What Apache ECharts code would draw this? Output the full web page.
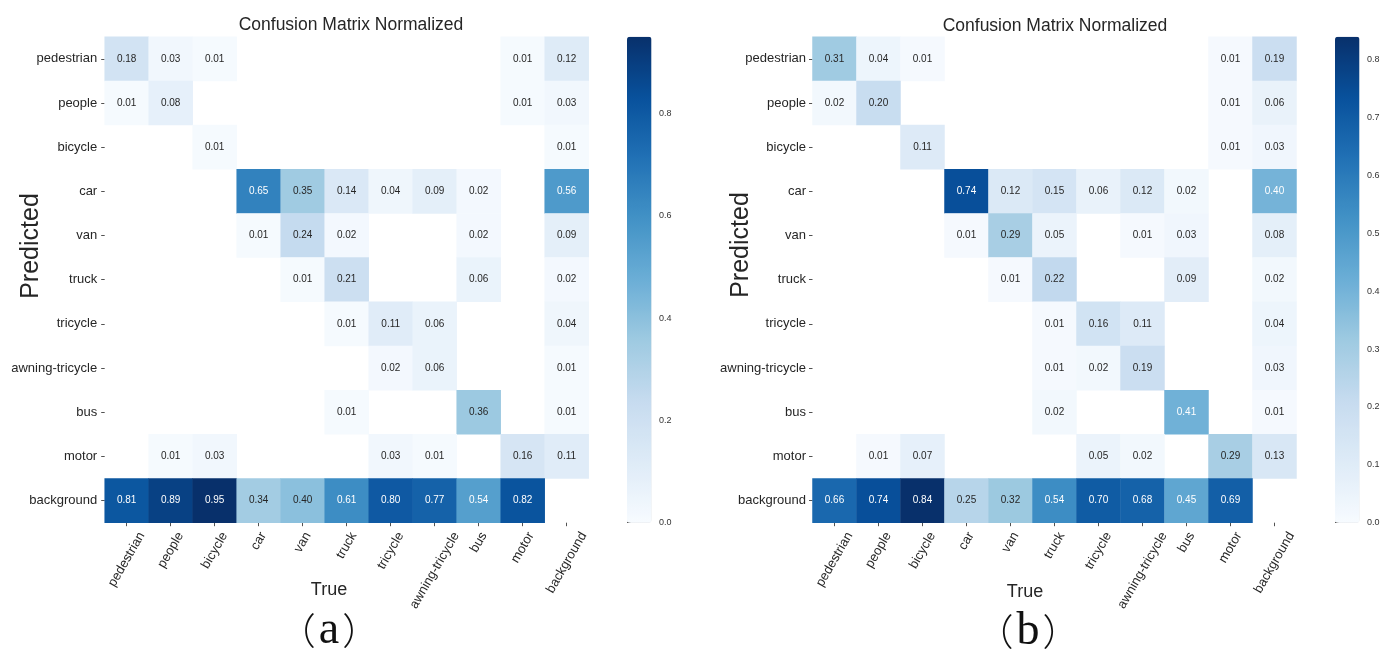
<!DOCTYPE html>
<html>
<head>
<meta charset="utf-8">
<script src="https://cdn.jsdelivr.net/npm/echarts@6/dist/echarts.min.js"></script>
<style>
  html, body { margin: 0; padding: 0; background: #fff; }
  #chart { width: 1395px; height: 651px; }
</style>
</head>
<body>
<div id="chart"></div>
<script>
// Class names shared by both axes (rows = predicted, columns = true)
const classes = ['pedestrian', 'people', 'bicycle', 'car', 'van', 'truck', 'tricycle',
  'awning-tricycle', 'bus', 'motor', 'background'];

// (a) normalized confusion matrix; null = empty cell
const matrixA = [
  [0.18, 0.03, 0.01, null, null, null, null, null, null, 0.01, 0.12],
  [0.01, 0.08, null, null, null, null, null, null, null, 0.01, 0.03],
  [null, null, 0.01, null, null, null, null, null, null, null, 0.01],
  [null, null, null, 0.65, 0.35, 0.14, 0.04, 0.09, 0.02, null, 0.56],
  [null, null, null, 0.01, 0.24, 0.02, null, null, 0.02, null, 0.09],
  [null, null, null, null, 0.01, 0.21, null, null, 0.06, null, 0.02],
  [null, null, null, null, null, 0.01, 0.11, 0.06, null, null, 0.04],
  [null, null, null, null, null, null, 0.02, 0.06, null, null, 0.01],
  [null, null, null, null, null, 0.01, null, null, 0.36, null, 0.01],
  [null, 0.01, 0.03, null, null, null, 0.03, 0.01, null, 0.16, 0.11],
  [0.81, 0.89, 0.95, 0.34, 0.40, 0.61, 0.80, 0.77, 0.54, 0.82, null]
];

// (b) normalized confusion matrix; null = empty cell
const matrixB = [
  [0.31, 0.04, 0.01, null, null, null, null, null, null, 0.01, 0.19],
  [0.02, 0.20, null, null, null, null, null, null, null, 0.01, 0.06],
  [null, null, 0.11, null, null, null, null, null, null, 0.01, 0.03],
  [null, null, null, 0.74, 0.12, 0.15, 0.06, 0.12, 0.02, null, 0.40],
  [null, null, null, 0.01, 0.29, 0.05, null, 0.01, 0.03, null, 0.08],
  [null, null, null, null, 0.01, 0.22, null, null, 0.09, null, 0.02],
  [null, null, null, null, null, 0.01, 0.16, 0.11, null, null, 0.04],
  [null, null, null, null, null, 0.01, 0.02, 0.19, null, null, 0.03],
  [null, null, null, null, null, 0.02, null, null, 0.41, null, 0.01],
  [null, 0.01, 0.07, null, null, null, 0.05, 0.02, null, 0.29, 0.13],
  [0.66, 0.74, 0.84, 0.25, 0.32, 0.54, 0.70, 0.68, 0.45, 0.69, null]
];

// Colour scale ranges and colour-bar ticks
const scaleMaxA = 0.95;
const scaleMaxB = 0.84;
const colorbarTicksA = [0, 0.2, 0.4, 0.6, 0.8];
const colorbarTicksB = [0, 0.1, 0.2, 0.3, 0.4, 0.5, 0.6, 0.7, 0.8];

const titleText = 'Confusion Matrix Normalized';
const panelTags = ['a', 'b'];

// "Blues" colour map stops
const BLUES = ['#f7fbff', '#deebf7', '#c6dbef', '#9ecae1', '#6baed6',
  '#4292c6', '#2171b5', '#08519c', '#08306b'];

const SANS = '"Liberation Sans", Arial, Helvetica, sans-serif';
const INK = '#262626';

function hexToRgb(h) {
  return [parseInt(h.slice(1, 3), 16), parseInt(h.slice(3, 5), 16), parseInt(h.slice(5, 7), 16)];
}
function bluesAt(t) {
  t = Math.max(0, Math.min(1, t));
  const pos = t * (BLUES.length - 1);
  const i = Math.min(BLUES.length - 2, Math.floor(pos));
  const f = pos - i;
  const a = hexToRgb(BLUES[i]), b = hexToRgb(BLUES[i + 1]);
  return a.map((c, k) => c + (b[k] - c) * f);
}
function luminance(rgb) {
  const lin = rgb.map(c => {
    c /= 255;
    return c <= 0.03928 ? c / 12.92 : Math.pow((c + 0.055) / 1.055, 2.4);
  });
  return 0.2126 * lin[0] + 0.7152 * lin[1] + 0.0722 * lin[2];
}

// Heatmap items with a readable annotation colour for each cell
function cells(matrix, vmax) {
  const out = [];
  matrix.forEach((row, r) => row.forEach((v, c) => {
    if (v === null) return;
    const lum = luminance(bluesAt(v / vmax));
    out.push({ value: [c, r, v], label: { color: lum > 0.42 ? INK : '#ffffff' } });
  }));
  return out;
}

// Rotated x labels: the rotated text box is centred under its tick,
// its top edge a few pixels below the heatmap.
const measureCtx = document.createElement('canvas').getContext('2d');
measureCtx.font = '13px ' + SANS;
const ROT = 60 * Math.PI / 180;
const X_LABEL_MARGIN = -5;
const X_LABEL_TOP_GAP = 6.8;
function xLabelItems() {
  return classes.map(name => {
    const L = measureCtx.measureText(name).width;
    const H = L * Math.sin(ROT) + 15 * Math.cos(ROT);
    const D = X_LABEL_TOP_GAP + H / 2 - X_LABEL_MARGIN;
    const padRight = Math.sin(ROT) * D - L / 2;
    return { value: name, textStyle: { padding: [D, padRight, 0, 0] } };
  });
}

const GRID_TOP = 36.7, GRID_H = 486, GRID_W = 484, BAR_W = 24.5;
const panels = [
  { left: 104.7, bar: 627, matrix: matrixA, vmax: scaleMaxA, ticks: colorbarTicksA, labelMargin: 7.5 },
  { left: 812.5, bar: 1335, matrix: matrixB, vmax: scaleMaxB, ticks: colorbarTicksB, labelMargin: 6.5 }
];

const grid = [], xAxis = [], yAxis = [], series = [], visualMap = [];
panels.forEach((p, i) => {
  grid.push({ left: p.left, top: GRID_TOP, width: GRID_W, height: GRID_H, containLabel: false, outerBoundsMode: 'none' });
  grid.push({ left: p.bar, top: GRID_TOP, width: BAR_W, height: GRID_H, containLabel: false, outerBoundsMode: 'none' });

  xAxis.push({
    gridIndex: 2 * i, type: 'category', data: xLabelItems(),
    axisLine: { show: false },
    axisTick: { show: true, alignWithLabel: true, length: 3.5, lineStyle: { color: INK, width: 0.8 } },
    axisLabel: {
      interval: 0, rotate: 60, margin: X_LABEL_MARGIN, fontSize: 13, fontFamily: SANS, color: INK,
      formatter: v => '{t|' + v + '}',
      rich: { t: { fontSize: 13, fontFamily: SANS, color: INK } }
    },
    splitLine: { show: false }, splitArea: { show: false }
  });
  xAxis.push({ gridIndex: 2 * i + 1, type: 'value', show: false, min: 0, max: 1 });

  yAxis.push({
    gridIndex: 2 * i, type: 'category', data: classes, inverse: true,
    axisLine: { show: false },
    axisTick: { show: true, alignWithLabel: true, length: 3.5, lineStyle: { color: INK, width: 0.8 } },
    axisLabel: { interval: 0, margin: p.labelMargin, fontSize: 13, fontFamily: SANS, color: INK },
    splitLine: { show: false }, splitArea: { show: false }
  });
  yAxis.push({
    gridIndex: 2 * i + 1, type: 'value', position: 'right', min: 0, max: p.vmax,
    axisLine: { show: false },
    axisTick: { show: true, length: 3.5, customValues: p.ticks, lineStyle: { color: '#333', width: 0.8 } },
    axisLabel: {
      customValues: p.ticks, margin: 7.5, fontSize: 9, fontFamily: SANS, color: '#333',
      formatter: v => v.toFixed(1)
    },
    splitLine: { show: false }
  });

  series.push({
    type: 'heatmap', xAxisIndex: 2 * i, yAxisIndex: 2 * i,
    data: cells(p.matrix, p.vmax),
    itemStyle: { borderWidth: 0 },
    label: {
      show: true, fontSize: 10, fontFamily: SANS,
      formatter: prm => prm.value[2].toFixed(2)
    },
    emphasis: { disabled: true },
    silent: true
  });

  visualMap.push({
    type: 'continuous', seriesIndex: i, dimension: 2, min: 0, max: p.vmax,
    calculable: false, hoverLink: false, orient: 'vertical',
    left: p.bar, top: GRID_TOP, itemWidth: BAR_W, itemHeight: GRID_H, padding: 0,
    indicatorSize: 0, handleSize: 0,
    indicatorStyle: { opacity: 0 }, handleStyle: { opacity: 0 },
    textStyle: { color: 'rgba(0,0,0,0)' },
    inRange: { color: BLUES }
  });
});

const textBase = { fill: INK, align: 'center', verticalAlign: 'middle', textAlign: 'center', textVerticalAlign: 'middle' };
function label(x, y, text, size, extra) {
  return Object.assign({
    type: 'text', x: x, y: y,
    style: Object.assign({}, textBase, { text: text, fontSize: size, fontFamily: SANS })
  }, extra || {});
}
function tag(x, y, letter) {
  return {
    type: 'text', x: x, y: y,
    style: {
      text: '{p|（}{l|' + letter + '}{p|）}',
      align: 'center', verticalAlign: 'middle', textAlign: 'center', textVerticalAlign: 'middle',
      rich: {
        p: { fontSize: 37, fontFamily: '"Noto Sans CJK SC", serif', fill: '#111', color: '#111', fontWeight: 200 },
        l: { fontSize: 46, fontFamily: '"Liberation Serif", "Times New Roman", serif', fill: '#111', color: '#111', padding: [0, 3, 0, 3] }
      }
    }
  };
}

const graphic = [
  label(351, 25, titleText, 17.5),
  label(1055, 26, titleText, 17.5),
  label(31.6, 246, 'Predicted', 25, { rotation: Math.PI / 2 }),
  label(741, 245, 'Predicted', 25, { rotation: Math.PI / 2 }),
  label(329, 590, 'True', 18),
  label(1025, 592, 'True', 18),
  tag(329, 631, panelTags[0]),
  tag(1028, 632, panelTags[1])
];

const chart = echarts.init(document.getElementById('chart'), null, { renderer: 'canvas' });
chart.setOption({
  animation: false,
  backgroundColor: '#ffffff',
  grid: grid,
  xAxis: xAxis,
  yAxis: yAxis,
  visualMap: visualMap,
  series: series,
  graphic: graphic
});
</script>
</body>
</html>
